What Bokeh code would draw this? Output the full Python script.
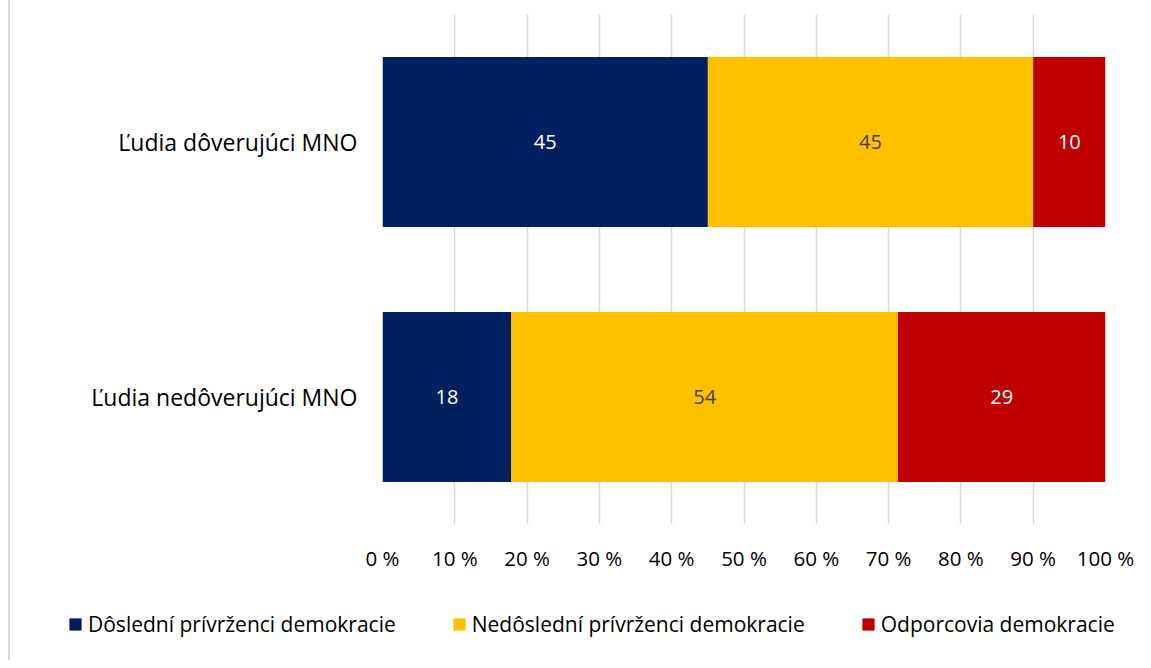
from bokeh.plotting import figure
from bokeh.layouts import column, row
from bokeh.models import ColumnDataSource, FactorRange, Range1d, FixedTicker, Legend, LegendItem
from bokeh.core.properties import value
from bokeh.embed import file_html
from bokeh.resources import INLINE

categories = ["Ľudia nedôverujúci MNO", "Ľudia dôverujúci MNO"]
series = ["Dôslední prívrženci demokracie", "Nedôslední prívrženci demokracie", "Odporcovia demokracie"]
dosledni = [18, 45]
nedosledni = [54, 45]
odporcovia = [29, 10]
colors = ["#002060", "#FFC000", "#C00000"]
label_colors = ["#FFFFFF", "#404040", "#FFFFFF"]
tick_values = [0, 10, 20, 30, 40, 50, 60, 70, 80, 90, 100]
tick_labels = [f"{t} %" for t in tick_values]

FONT = "Open Sans"
BORDER = {"border-left": "2px solid #d9d9d9"}

raw = [dosledni, nedosledni, odporcovia]
totals = [sum(r[i] for r in raw) for i in range(len(categories))]
data = {"cat": categories}
keys = ["s0", "s1", "s2"]
for k, r in zip(keys, raw):
    data[k] = [v / t * 100 for v, t in zip(r, totals)]
source = ColumnDataSource(data)

p = figure(width=1135, height=590, y_range=FactorRange(*categories, range_padding=0),
           x_range=Range1d(0, 100), output_backend="svg", toolbar_location=None,
           min_border_left=372, min_border_right=40, min_border_top=14, min_border_bottom=66)
p.y_range.factor_padding = 0
p.margin = (0, 0, 0, 8)
p.styles = BORDER

p.hbar_stack(keys, y="cat", height=0.667, color=colors, source=source, line_width=0)

# data labels
for j, k in enumerate(keys):
    left = [sum(data[keys[m]][i] for m in range(j)) for i in range(len(categories))]
    mids = [l + w / 2 for l, w in zip(left, data[k])]
    src = ColumnDataSource(dict(x=mids, y=categories, t=[str(v) for v in raw[j]]))
    p.text(x="x", y="y", text="t", source=src, text_align="center", text_baseline="middle",
           text_color=label_colors[j], text_font=value(FONT), text_font_size="20px")

p.outline_line_color = None
p.ygrid.grid_line_color = None
p.xgrid.grid_line_color = "#d9d9d9"
p.xgrid.grid_line_width = 1.5
p.xaxis.ticker = FixedTicker(ticks=tick_values)
p.xaxis.major_label_overrides = {t: l for t, l in zip(tick_values, tick_labels)}
for ax in (p.xaxis, p.yaxis):
    ax.axis_line_color = None
    ax.major_tick_line_color = None
    ax.minor_tick_line_color = None
    ax.major_label_text_font = FONT
    ax.major_label_text_color = "#000000"
p.xaxis.major_label_text_font_size = "20.5px"
p.xaxis.major_label_standoff = 13
p.yaxis.major_label_text_font_size = "23px"
p.yaxis.major_label_standoff = 19

# legend panel (separate small figure, legend items drawn from the series lists)
p2 = figure(width=1135, height=70, x_range=Range1d(0, 1), y_range=Range1d(0, 1),
            output_backend="svg", toolbar_location=None, x_axis_location=None,
            y_axis_location=None, min_border=0, min_border_left=0, min_border_right=0,
            min_border_top=0, min_border_bottom=0)
p2.margin = (0, 0, 0, 8)
p2.styles = BORDER
p2.outline_line_color = None
p2.grid.visible = False
dummies = [p2.hbar(y=[-5], left=[0], right=[1], height=1, color=c) for c in colors]
items = [LegendItem(label=s, renderers=[r]) for s, r in zip(series, dummies)]
legend = Legend(items=items, orientation="horizontal", location=(58, 22),
                label_text_font=FONT, label_text_font_size="21px", label_text_color="#000000",
                glyph_width=14, glyph_height=14, label_standoff=6, spacing=56,
                padding=0, margin=0, border_line_color=None, background_fill_alpha=0)
p2.add_layout(legend, "center")

layout = column(p, row(p2), spacing=0)
open("out.html", "w").write(file_html(layout, INLINE))
